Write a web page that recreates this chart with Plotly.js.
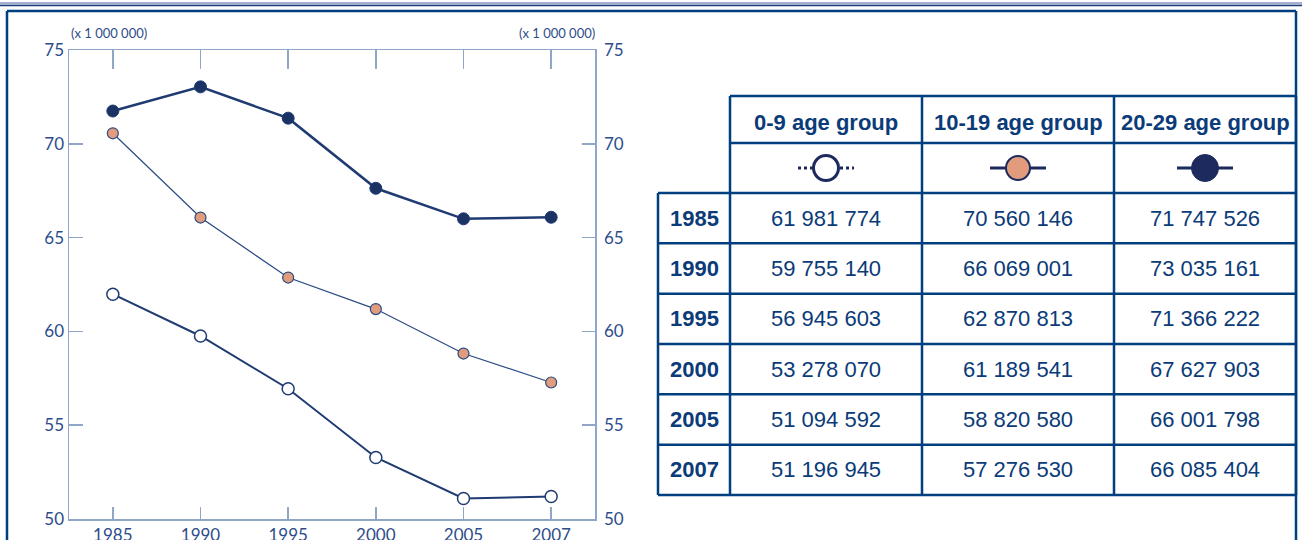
<!DOCTYPE html>
<html>
<head>
<meta charset="utf-8">
<script src="https://cdn.plot.ly/plotly-3.0.1.min.js"></script>
<style>
html,body{margin:0;padding:0;background:#fff;}
#chart{width:1302px;height:540px;}
</style>
</head>
<body>
<div id="chart"></div>
<script>
// ---------- DATA ----------
const years = ['1985', '1990', '1995', '2000', '2005', '2007'];
const groups = ['0-9 age group', '10-19 age group', '20-29 age group'];
const pop0_9   = [61981774, 59755140, 56945603, 53278070, 51094592, 51196945];
const pop10_19 = [70560146, 66069001, 62870813, 61189541, 58820580, 57276530];
const pop20_29 = [71747526, 73035161, 71366222, 67627903, 66001798, 66085404];
const yTickVals = [50, 55, 60, 65, 70, 75];
const unitLabel = '(x 1 000 000)';

// ---------- STYLE / LAYOUT CONSTANTS ----------
const W = 1302, H = 540;
const NAVY = '#003f7f';
const TXT = '#0b3b78';
const AXC = '#8fa6c9';
const LBL = '#2e4c8a';
const LINE = '#1f3b72';
const FONT_C = 'Lato, "Open Sans", sans-serif';
const FONT_T = '"Liberation Sans", Arial, sans-serif';
const PLOT = {x0: 69, x1: 595, y0: 50, y1: 519};
const TBL = {cols: [658, 730, 922, 1114, 1296], head: [96, 143, 193], rowH: 50.33};

const X = p => p / W;
const Y = p => 1 - p / H;
const mil = v => v / 1e6;
const fmt = v => String(v).replace(/\B(?=(\d{3})+(?!\d))/g, ' ');

const series = [
  {name: groups[2], vals: pop20_29, lw: 2.5, lc: LINE, mc: '#1b3264', mlc: LINE, mlw: 1, ms: 12, dash: 'solid', lgFill: '#1c2a5e', lgSize: 27, lgLw: 1},
  {name: groups[1], vals: pop10_19, lw: 1.2, lc: '#2a4a82', mc: '#e09c7c', mlc: '#2a4a82', mlw: 1.2, ms: 11, dash: 'solid', lgFill: '#e09c7c', lgSize: 24, lgLw: 2},
  {name: groups[0], vals: pop0_9, lw: 2, lc: LINE, mc: '#ffffff', mlc: LINE, mlw: 1.5, ms: 12, dash: 'dot', lgFill: '#ffffff', lgSize: 25, lgLw: 3}
];

const traces = [];
series.forEach(s => {
  traces.push({
    type: 'scatter', mode: 'lines+markers', x: years, y: s.vals.map(mil),
    xaxis: 'x', yaxis: 'y', cliponaxis: false, showlegend: false,
    line: {color: s.lc, width: s.lw},
    marker: {size: s.ms, color: s.mc, line: {color: s.mlc, width: s.mlw}}
  });
});

// ---------- TABLE ----------
const shapes = [];
const annotations = [];
const c = TBL.cols;
const rowEdges = [TBL.head[2]];
years.forEach((_, i) => rowEdges.push(TBL.head[2] + (i + 1) * TBL.rowH));
const tblBottom = rowEdges[rowEdges.length - 1];
const seg = (x0, y0, x1, y1) => shapes.push({type: 'line', xref: 'x2', yref: 'y2', x0, y0, x1, y1, line: {color: NAVY, width: 2.5}});
seg(c[1], TBL.head[0], c[4], TBL.head[0]);
seg(c[1], TBL.head[1], c[4], TBL.head[1]);
rowEdges.forEach(y => seg(c[0], y, c[4], y));
seg(c[0], TBL.head[2], c[0], tblBottom);
for (let k = 1; k < c.length; k++) seg(c[k], TBL.head[0], c[k], tblBottom);

const colMid = k => (c[k] + c[k + 1]) / 2;
groups.forEach((g, k) => {
  annotations.push({xref: 'x2', yref: 'y2', x: colMid(k + 1), y: (TBL.head[0] + TBL.head[1]) / 2 + 2.5,
    text: '<b>' + g + '</b>', showarrow: false, xanchor: 'center', yanchor: 'middle',
    font: {family: FONT_T, size: 22, color: TXT}});
});
const colData = [pop0_9, pop10_19, pop20_29];
years.forEach((yr, i) => {
  const yc = (rowEdges[i] + rowEdges[i + 1]) / 2;
  annotations.push({xref: 'x2', yref: 'y2', x: colMid(0), y: yc, text: '<b>' + yr + '</b>', showarrow: false,
    xanchor: 'center', yanchor: 'middle', font: {family: FONT_T, size: 22, color: TXT}});
  colData.forEach((arr, k) => {
    annotations.push({xref: 'x2', yref: 'y2', x: colMid(k + 1), y: yc, text: fmt(arr[i]), showarrow: false,
      xanchor: 'center', yanchor: 'middle', font: {family: FONT_T, size: 22, color: TXT}});
  });
});

// legend symbols in second header row
const legY = (TBL.head[1] + TBL.head[2]) / 2;
const legOrder = [series[2], series[1], series[0]];
legOrder.forEach((s, k) => {
  const cx = colMid(k + 1);
  traces.push({type: 'scatter', mode: 'lines', x: [cx - 28, cx + 28], y: [legY, legY], xaxis: 'x2', yaxis: 'y2',
    showlegend: false, line: {color: '#1c2a5e', width: 3, dash: s.dash}});
  traces.push({type: 'scatter', mode: 'markers', x: [cx], y: [legY], xaxis: 'x2', yaxis: 'y2', showlegend: false,
    marker: {size: s.lgSize, color: s.lgFill, line: {color: '#1c2a5e', width: s.lgLw}}});
});

// ---------- FRAME ----------
shapes.push({type: 'rect', xref: 'paper', yref: 'paper', x0: 0, x1: 1, y0: Y(5), y1: Y(2), fillcolor: '#a4aed0', line: {width: 0}, layer: 'below'});
shapes.push({type: 'rect', xref: 'paper', yref: 'paper', x0: 0, x1: 1, y0: Y(6.3), y1: Y(5), fillcolor: '#1d3f7a', line: {width: 0}, layer: 'below'});
const fr = (x0, y0, x1, y1) => shapes.push({type: 'line', xref: 'paper', yref: 'paper', x0: X(x0), y0: Y(y0), x1: X(x1), y1: Y(y1), line: {color: NAVY, width: 2.5}});
fr(7, 11, 1296, 11);
fr(7, 11, 7, 545);
fr(1296, 11, 1296, 545);

// unit labels
annotations.push({xref: 'paper', yref: 'paper', x: X(PLOT.x0), y: Y(33), text: unitLabel, showarrow: false,
  xanchor: 'left', yanchor: 'middle', font: {family: FONT_C, size: 13, color: LBL}});
annotations.push({xref: 'paper', yref: 'paper', x: X(PLOT.x1 + 2), y: Y(33), text: unitLabel, showarrow: false,
  xanchor: 'right', yanchor: 'middle', font: {family: FONT_C, size: 13, color: LBL}});

const xdom = [X(PLOT.x0), X(PLOT.x1)];
const ydom = [Y(PLOT.y1), Y(PLOT.y0)];
const yBase = {range: [50, 75], tickvals: yTickVals, ticktext: yTickVals.map(String), ticks: 'inside', tickcolor: AXC, tickwidth: 1.5,
  showline: true, linecolor: AXC, linewidth: 1.5, showgrid: false, zeroline: false, fixedrange: true,
  tickfont: {family: FONT_C, size: 17, color: LBL}, domain: ydom};

const layout = {
  width: W, height: H, margin: {l: 0, r: 0, t: 0, b: 0}, paper_bgcolor: '#fff', plot_bgcolor: 'rgba(0,0,0,0)',
  showlegend: false,
  xaxis: {type: 'category', categoryarray: years, range: [-0.5, years.length - 0.5], domain: xdom, anchor: 'y',
    ticks: 'inside', ticklen: 12, tickcolor: AXC, tickwidth: 1.5, showline: true, linecolor: AXC, linewidth: 1.5,
    showgrid: false, zeroline: false, tickfont: {family: FONT_C, size: 17, color: LBL}},
  xaxis3: {type: 'category', categoryarray: years, range: [-0.5, years.length - 0.5], domain: xdom, anchor: 'y', overlaying: 'x',
    side: 'top', ticks: 'inside', ticklen: 19, tickcolor: AXC, tickwidth: 1.5, showline: true, linecolor: AXC, linewidth: 1.5,
    showticklabels: false, showgrid: false, zeroline: false},
  yaxis: Object.assign({}, yBase, {anchor: 'x', side: 'left', ticklen: 14}),
  yaxis3: Object.assign({}, yBase, {anchor: 'x', side: 'right', overlaying: 'y', ticklen: 13, ticklabelstandoff: 4}),
  xaxis2: {type: 'linear', range: [0, W], domain: [0, 1], anchor: 'y2', visible: false, fixedrange: true},
  yaxis2: {type: 'linear', range: [H, 0], domain: [0, 1], anchor: 'x2', visible: false, fixedrange: true},
  shapes: shapes,
  annotations: annotations
};

traces.push({type: 'scatter', mode: 'markers', x: years, y: pop0_9.map(mil), xaxis: 'x3', yaxis: 'y3',
  marker: {opacity: 0}, hoverinfo: 'skip', showlegend: false});

Plotly.newPlot('chart', traces, layout, {staticPlot: true, displayModeBar: false});
</script>
</body>
</html>
